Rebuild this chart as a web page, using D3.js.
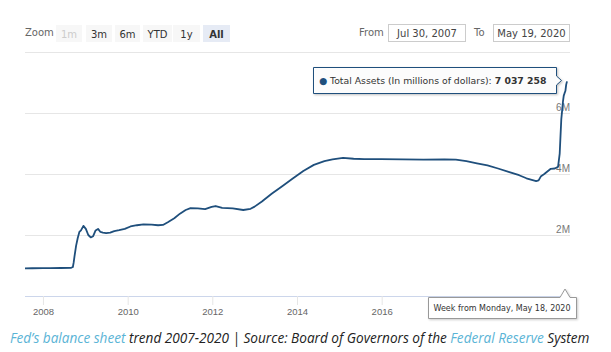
<!DOCTYPE html>
<html>
<head>
<meta charset="utf-8">
<script src="https://cdn.jsdelivr.net/npm/d3@7"></script>
<style>
  body { margin: 0; background: #fff; }
  svg { display: block; }
</style>
</head>
<body>
<div id="chart"></div>
<script>
// Fed total assets, weekly-ish readings (millions of dollars)
const weeks = [
  "2007-07-30","2007-10-01","2007-12-31","2008-03-03","2008-06-02","2008-09-01",
  "2008-09-15","2008-09-22","2008-09-29","2008-10-13","2008-10-27","2008-11-10",
  "2008-11-24","2008-12-15","2009-01-05","2009-01-26","2009-02-16","2009-03-09",
  "2009-03-30","2009-04-20","2009-05-11","2009-06-01","2009-06-29","2009-08-03",
  "2009-09-07","2009-10-19","2009-12-07","2010-01-25","2010-03-22","2010-05-17",
  "2010-07-26","2010-09-20","2010-11-01","2010-12-13","2011-02-07","2011-03-28",
  "2011-05-16","2011-06-27","2011-08-29","2011-10-31","2011-12-26","2012-01-30",
  "2012-03-26","2012-06-25","2012-09-24","2012-11-26","2012-12-31","2013-03-04",
  "2013-05-27","2013-08-26","2013-11-25","2014-02-24","2014-05-26","2014-08-25",
  "2014-11-03","2015-02-02","2015-05-04","2015-08-03","2015-12-28","2016-06-27",
  "2016-12-26","2017-06-26","2017-10-02","2018-01-01","2018-04-02","2018-07-02",
  "2018-10-01","2019-01-07","2019-04-01","2019-06-03","2019-08-26","2019-09-16",
  "2019-10-07","2019-11-04","2019-12-30","2020-02-03","2020-03-02","2020-03-16",
  "2020-03-23","2020-03-30","2020-04-06","2020-04-13","2020-04-20","2020-04-27",
  "2020-05-04","2020-05-11","2020-05-18"
];
const totalAssets = [
  905000, 910000, 915000, 912000, 918000, 925000,
  950000, 1100000, 1300000, 1650000, 1900000, 2100000,
  2150000, 2300000, 2200000, 2000000, 1920000, 1960000,
  2150000, 2200000, 2100000, 2080000, 2060000, 2080000,
  2130000, 2160000, 2200000, 2280000, 2320000, 2350000,
  2340000, 2320000, 2330000, 2420000, 2550000, 2700000,
  2820000, 2880000, 2870000, 2850000, 2920000, 2950000,
  2890000, 2870000, 2820000, 2860000, 2930000, 3100000,
  3350000, 3600000, 3850000, 4100000, 4300000, 4420000,
  4480000, 4530000, 4500000, 4490000, 4490000, 4480000,
  4470000, 4480000, 4470000, 4420000, 4350000, 4280000,
  4180000, 4060000, 3960000, 3860000, 3770000, 3790000,
  3930000, 4000000, 4170000, 4180000, 4240000, 4670000,
  5250000, 5810000, 6080000, 6370000, 6570000, 6650000,
  6720000, 6930000, 7037258
];
const gridValues = [2000000, 4000000, 6000000, 8000000];
const yLabelValues = [2000000, 4000000, 6000000];
// 2018 and 2020 sit under the date label in the reference
const yearTicks = ["2008","2010","2012","2014","2016"];
const zoomButtons = ["1m", "3m", "6m", "YTD", "1y", "All"];
const rangeFrom = "Jul 30, 2007";
const rangeTo = "May 19, 2020";
const seriesName = "Total Assets (In millions of dollars)";
const hoverLabel = "Week from Monday, May 18, 2020";

const W = 611, H = 352;
const lineColor = "#1f4f7c";
const parse = d3.timeParse("%Y-%m-%d");
const data = weeks.map((d, i) => ({ date: parse(d), value: totalAssets[i] }));

const svg = d3.select("#chart").append("svg")
  .attr("width", W).attr("height", H)
  .style("font-family", "'DejaVu Sans', Verdana, sans-serif");

// scales
const x = d3.scaleTime()
  .domain(d3.extent(data, d => d.date))
  .range([25, 567]);
const y = d3.scaleLinear()
  .domain([0, 8000000])
  .range([296, 52]);

// grid lines + y labels
const yAxis = svg.append("g")
  .attr("transform", "translate(25,0)")
  .call(d3.axisLeft(y).tickValues(gridValues).tickSize(-545).tickFormat(d => yLabelValues.includes(d) ? (d / 1e6) + "M" : ""));
yAxis.select(".domain").remove();
yAxis.selectAll("line").attr("stroke", "#e6e6e6");
yAxis.selectAll("text")
  .attr("x", 545).attr("dy", "-0.25em")
  .attr("text-anchor", "end")
  .attr("fill", "#777")
  .style("font-size", "10px");

// x axis
const xAxis = svg.append("g")
  .attr("transform", "translate(0,296)")
  .call(d3.axisBottom(x)
    .tickValues(yearTicks.map(s => parse(s + "-01-01")))
    .tickFormat(d3.timeFormat("%Y"))
    .tickSize(9).tickPadding(3)
    .tickSizeOuter(0));
xAxis.select(".domain").attr("stroke", "#ccd6eb").attr("d", "M25,0.5H570");
xAxis.selectAll("line").attr("stroke", "#e6e6e6");
xAxis.selectAll("text").attr("fill", "#666").style("font-size", "9.5px");

// series line
svg.append("path")
  .datum(data)
  .attr("fill", "none")
  .attr("stroke", lineColor)
  .attr("stroke-width", 1.8)
  .attr("stroke-linejoin", "round")
  .attr("d", d3.line().x(d => x(d.date)).y(d => y(d.value)));

// range selector buttons
svg.append("text").attr("x", 25).attr("y", 36)
  .attr("fill", "#666").style("font-size", "10px").text("Zoom");
const btnX = [56, 86, 115, 143, 173, 203];
const btnW = [26, 26, 25, 29, 27, 27];
const btn = svg.append("g").selectAll("g")
  .data(zoomButtons).join("g")
  .attr("transform", (d, i) => `translate(${btnX[i]},25)`);
btn.append("rect")
  .attr("width", (d, i) => btnW[i]).attr("height", 17)
  .attr("fill", d => d === "All" ? "#e6ebf5" : "#f7f7f7");
btn.append("text")
  .attr("x", (d, i) => btnW[i] / 2).attr("y", 12.5)
  .attr("text-anchor", "middle")
  .attr("fill", d => d === "1m" ? "#cccccc" : "#333")
  .style("font-size", "10px")
  .style("font-weight", d => d === "All" ? "bold" : "normal")
  .text(d => d);

// date inputs
svg.append("text").attr("x", 359).attr("y", 36)
  .attr("fill", "#666").style("font-size", "10px").text("From");
svg.append("text").attr("x", 474).attr("y", 36)
  .attr("fill", "#666").style("font-size", "10px").text("To");
[[388, 77, rangeFrom], [493, 76, rangeTo]].forEach(([bx, bw, t]) => {
  svg.append("rect").attr("x", bx + 0.5).attr("y", 24.5)
    .attr("width", bw).attr("height", 17)
    .attr("fill", "#fff").attr("stroke", "#cccccc");
  svg.append("text").attr("x", bx + bw / 2 + 0.5).attr("y", 36.5)
    .attr("text-anchor", "middle").attr("fill", "#444")
    .style("font-size", "10px").text(t);
});

// series tooltip
const tip = svg.append("g");
tip.append("path")
  .attr("d", "M313.5,67.5H556.5V76L561.5,80.5L556.5,85V93.5H313.5Z")
  .attr("fill", "rgba(255,255,255,0.95)")
  .attr("stroke", lineColor).attr("stroke-width", 1)
  .style("filter", "drop-shadow(1px 1px 1px rgba(0,0,0,0.25))");
const tipText = tip.append("text").attr("x", 319).attr("y", 84).style("font-size", "9.3px");
tipText.append("tspan").attr("fill", lineColor).text("\u25CF ");
tipText.append("tspan").attr("fill", "#333").text(seriesName + ": ");
tipText.append("tspan").attr("fill", "#333").style("font-weight", "bold")
  .text(d3.format(",")(totalAssets[totalAssets.length - 1]).replace(/,/g, " "));

// crosshair date label
const lab = svg.append("g");
lab.append("path")
  .attr("d", "M428.5,297.5H560L565,289L570,297.5H576.5V318.5H428.5Z")
  .attr("fill", "#fff")
  .attr("stroke", "#999").attr("stroke-width", 1)
  .style("filter", "drop-shadow(1px 1px 1px rgba(0,0,0,0.2))");
lab.append("text").attr("x", 502).attr("y", 311)
  .attr("text-anchor", "middle").attr("fill", "#333")
  .style("font-size", "8px").text(hoverLabel);

// caption
const cap = svg.append("text").attr("x", 10).attr("y", 343)
  .style("font-family", "'Open Sans', sans-serif")
  .style("font-style", "italic").style("font-size", "13.6px");
const capBits = [
  ["Fed\u2019s balance sheet", "#5ab4d6"],
  [" trend 2007-2020 | Source: Board of Governors of the ", "#222"],
  ["Federal Reserve", "#5ab4d6"],
  [" System", "#222"]
];
capBits.forEach(([t, c]) => cap.append("tspan").attr("fill", c).text(t));
</script>
</body>
</html>
